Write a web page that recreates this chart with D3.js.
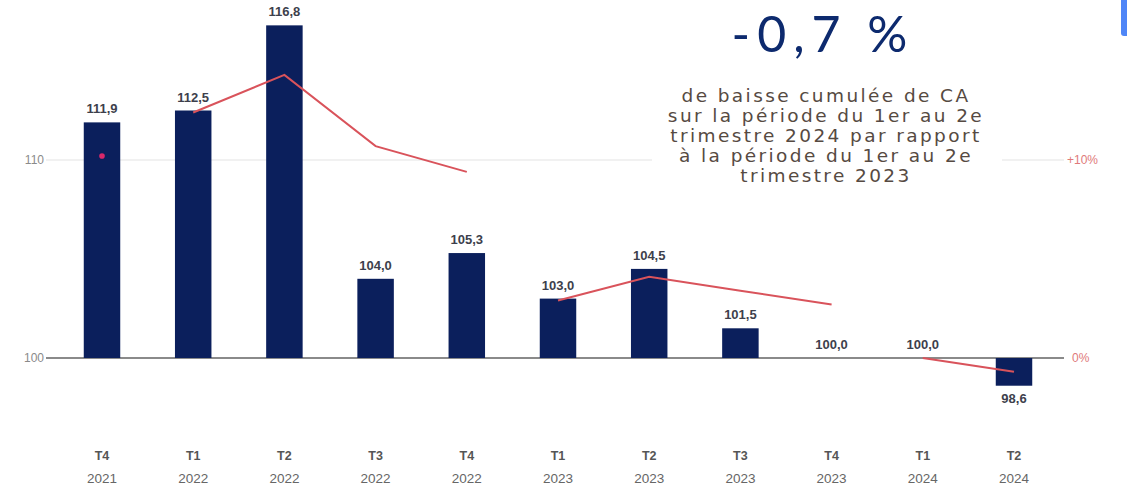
<!DOCTYPE html>
<html>
<head>
<meta charset="utf-8">
<script src="https://cdn.jsdelivr.net/npm/d3@7"></script>
<style>
  body { margin: 0; background: #fff; }
  svg { display: block; font-family: "Liberation Sans", Arial, sans-serif; }
</style>
</head>
<body>
<div id="chart"></div>
<script>
// quarters and years
const quarters = ['T4', 'T1', 'T2', 'T3', 'T4', 'T1', 'T2', 'T3', 'T4', 'T1', 'T2'];
const years = ['2021', '2022', '2022', '2022', '2022', '2023', '2023', '2023', '2023', '2024', '2024'];
// index (base 100)
const indexValues = [111.9, 112.5, 116.8, 104.0, 105.3, 103.0, 104.5, 101.5, 100.0, 100.0, 98.6];
// cumulative change vs previous year, %
const cumulChange = [10.2, 12.4, 14.3, 10.7, 9.4, 2.9, 4.1, 3.4, 2.7, 0.0, -0.7];
const leftTicks = [100, 110];
const rightTicks = [0, 10];
const noteLines = ['de baisse cumulée de CA', 'sur la période du 1er au 2e', 'trimestre 2024 par rapport', 'à la période du 1er au 2e', 'trimestre 2023'];
const headline = '-0,7 %';

const W = 1127, H = 489;
const navy = '#0b1f5c';
const red = '#d9535b';

const svg = d3.select('#chart').append('svg')
  .attr('width', W)
  .attr('height', H);

const keys = quarters.map((q, i) => i);
const x = d3.scaleBand().domain(keys).range([56.4, 1059.6]).paddingInner(0.6).paddingOuter(0.3);
const y = d3.scaleLinear().domain([100, 110]).range([358, 160]);
const yPct = d3.scaleLinear().domain([0, 10]).range([358, 160]);

// gridlines
svg.append('g').selectAll('line')
  .data(leftTicks)
  .join('line')
    .attr('x1', 46).attr('x2', 1064)
    .attr('y1', d => y(d)).attr('y2', d => y(d))
    .attr('stroke', d => d === 100 ? '#8a8a8a' : '#ececec')
    .attr('stroke-width', d => d === 100 ? 2 : 1.5);

svg.append('g').selectAll('text')
  .data(leftTicks)
  .join('text')
    .attr('x', 44).attr('y', d => y(d) + 4)
    .attr('text-anchor', 'end')
    .attr('font-size', 12)
    .attr('fill', '#8a8a8a')
    .text(d => d);

svg.append('g').selectAll('text')
  .data(rightTicks)
  .join('text')
    .attr('x', d => d === 0 ? 1072 : 1067).attr('y', d => yPct(d) + 4)
    .attr('font-size', 12)
    .attr('fill', '#e07a7a')
    .text(d => (d > 0 ? '+' : '') + d + '%');

// bars
svg.append('g').selectAll('rect')
  .data(indexValues)
  .join('rect')
    .attr('x', (d, i) => x(i))
    .attr('width', x.bandwidth())
    .attr('y', d => y(Math.max(d, 100)))
    .attr('height', d => Math.abs(y(d) - y(100)))
    .attr('fill', navy);

// value labels
svg.append('g').selectAll('text')
  .data(indexValues)
  .join('text')
    .attr('x', (d, i) => x(i) + x.bandwidth() / 2)
    .attr('y', d => d < 100 ? y(d) + 17 : y(d) - 9)
    .attr('text-anchor', 'middle')
    .attr('font-size', 13)
    .attr('font-weight', 'bold')
    .attr('fill', '#3d3f4c')
    .text(d => d3.format('.1f')(d).replace('.', ','));

// red cumulative line, one segment per year
const pts = cumulChange.map((v, i) => ({v, i, year: years[i]}));
const byYear = d3.groups(pts, d => d.year);
const line = d3.line()
  .x(d => x(d.i) + x.bandwidth() / 2)
  .y(d => yPct(d.v));

byYear.forEach(([yr, seg]) => {
  if (seg.length > 1) {
    svg.append('path')
      .datum(seg)
      .attr('d', line)
      .attr('fill', 'none')
      .attr('stroke', red)
      .attr('stroke-width', 2);
  } else {
    svg.append('circle')
      .attr('cx', x(seg[0].i) + x.bandwidth() / 2)
      .attr('cy', yPct(seg[0].v))
      .attr('r', 2.8)
      .attr('fill', '#d8286a');
  }
});

// x axis labels
const xl = svg.append('g').selectAll('g')
  .data(keys)
  .join('g')
    .attr('transform', i => `translate(${x(i) + x.bandwidth() / 2},0)`);
xl.append('text')
  .attr('y', 460)
  .attr('text-anchor', 'middle')
  .attr('font-size', 12.5)
  .attr('font-weight', 'bold')
  .attr('fill', '#555')
  .text(i => quarters[i]);
xl.append('text')
  .attr('y', 483)
  .attr('text-anchor', 'middle')
  .attr('font-size', 13.5)
  .attr('fill', '#666')
  .text(i => years[i]);

// annotation block
svg.append('rect')
  .attr('x', 652).attr('y', 80)
  .attr('width', 350).attr('height', 110)
  .attr('fill', '#fff');

svg.append('text')
  .attr('x', 823).attr('y', 52)
  .attr('text-anchor', 'middle')
  .attr('font-family', 'Lato, sans-serif')
  .attr('font-weight', 400)
  .attr('font-size', 50)
  .attr('letter-spacing', 7)
  .attr('fill', '#0d2a6e')
  .text(headline);

svg.append('g').selectAll('text')
  .data(noteLines)
  .join('text')
    .attr('x', 826)
    .attr('y', (d, i) => 102 + i * 20)
    .attr('text-anchor', 'middle')
    .attr('font-family', '"DejaVu Sans", sans-serif')
    .attr('font-size', 18.5)
    .attr('letter-spacing', 2.4)
    .attr('fill', '#564a42')
    .text(d => d);

// blue tab in the top right corner
svg.append('path')
  .attr('d', 'M1121,0 H1127 V36 H1124 Q1121,36 1121,33 Z')
  .attr('fill', '#4f86f7');
</script>
</body>
</html>
